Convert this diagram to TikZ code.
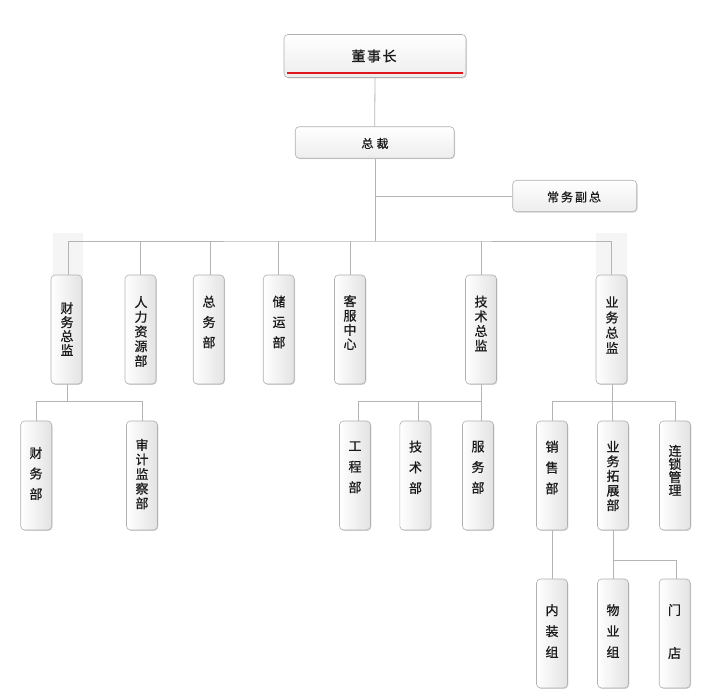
\documentclass[tikz,border=0pt]{standalone}
\usepackage{fontspec}
\newfontfamily\cjk[FakeBold=0.7]{Noto Sans CJK SC}
\usetikzlibrary{shadows}
\definecolor{lineg}{HTML}{B4B4B4}
\definecolor{boxg}{HTML}{B0B0B0}
\definecolor{txt}{HTML}{1A1A1A}
\definecolor{redl}{HTML}{E0191E}
\tikzset{
  conn/.style={draw=lineg, line width=0.8pt},
  basebox/.style={draw=boxg, line width=0.6pt, rounded corners=4pt,
    drop shadow={shadow xshift=0.8pt, shadow yshift=-0.9pt, opacity=0.35, fill=black!45}},
  vbox/.style={basebox, minimum width=31pt, minimum height=109pt, inner sep=0pt,
    left color=white, right color=black!11, shading angle=90},
  hbox/.style={basebox, inner sep=0pt, top color=white, bottom color=black!7},
  vlab/.style={font=\cjk\fontsize{13}{#1}\selectfont, align=center, inner sep=0pt, text=txt},
  hlab/.style={font=\cjk\fontsize{#1}{#1}\selectfont, inner sep=0pt, text=txt},
  faint/.style={fill=black!4, draw=none}
}
\begin{document}
\begin{tikzpicture}[x=1pt,y=-1pt]
\useasboundingbox (0,0) rectangle (705,700);
% faint backgrounds
\path[faint] (53,233) rectangle (83,276);
\path[faint] (596,233) rectangle (627,276);

% top boxes
\node[hbox, minimum width=182pt, minimum height=43pt] (dsz) at (375,56) {};
\node[hlab=14] (dszt) at (374,56) {董\kern1.5pt事\kern1.5pt长};
\coordinate (rl1) at (287,73.3);
\coordinate (rl2) at (463,73.3);
\draw[redl, line width=2pt] (rl1) -- (rl2);

\node[hbox, minimum width=159pt, minimum height=31.5pt] (zc) at (374.7,142.5) {};
\node[hlab=12] (zct) at (375,143.5) {总\kern3pt裁};

\node[hbox, minimum width=124pt, minimum height=31.5pt] (cwfz) at (574.7,196) {};
\node[hlab=12] (cwfzt) at (574,197) {常\kern2pt务\kern2pt副\kern2pt总};

% level 2
\node[vbox] (cwzj) at (66.5,329.5) {};
\node[vlab=14] (cwzjt) at (67,329) {财\\务\\总\\监};
\node[vbox] (rlzy) at (140.5,329.5) {};
\node[vlab=14.7] (rlzyt) at (141,331.5) {人\\力\\资\\源\\部};
\node[vbox] (zwb) at (208.7,329.5) {};
\node[vlab=20.3] (zwbt) at (209,322) {总\\务\\部};
\node[vbox] (cyb) at (278.7,329.5) {};
\node[vlab=20.3] (cybt) at (279,322) {储\\运\\部};
\node[vbox] (kfzx) at (350,329.5) {};
\node[vlab=14.3] (kfzxt) at (350,322.5) {客\\服\\中\\心};
\node[vbox] (jszj) at (481,329.5) {};
\node[vlab=14.7] (jszjt) at (481,323.5) {技\\术\\总\\监};
\node[vbox] (ywzj) at (611.5,329.5) {};
\node[vlab=15.3] (ywzjt) at (612,325) {业\\务\\总\\监};

% level 3
\node[vbox] (cwb) at (36.2,475.5) {};
\node[vlab=20.5] (cwbt) at (36,473.5) {财\\务\\部};
\node[vbox] (sjjc) at (142,475.5) {};
\node[vlab=14.6] (sjjct) at (142,474) {审\\计\\监\\察\\部};
\node[vbox] (gcb) at (355,475.5) {};
\node[vlab=20.7] (gcbt) at (355,467.3) {工\\程\\部};
\node[vbox] (jsb) at (415.3,475.5) {};
\node[vlab=20.7] (jsbt) at (415.5,467.3) {技\\术\\部};
\node[vbox] (fwb) at (478,475.5) {};
\node[vlab=20.7] (fwbt) at (478,467.3) {服\\务\\部};
\node[vbox] (xsb) at (552,475.5) {};
\node[vlab=20.8] (xsbt) at (552,467.5) {销\\售\\部};
\node[vbox] (ywtz) at (613,475.5) {};
\node[vlab=14.6] (ywtzt) at (613,476) {业\\务\\拓\\展\\部};
\node[vbox] (lsgl) at (675,475.5) {};
\node[vlab=13.1] (lsglt) at (675,470.3) {连\\锁\\管\\理};

% level 4
\node[vbox] (nzz) at (552,633.5) {};
\node[vlab=21] (nzzt) at (552,631) {内\\装\\组};
\node[vbox] (wyz) at (613,633.5) {};
\node[vlab=21] (wyzt) at (613,631) {物\\业\\组};
\node[vbox] (md) at (674.7,633.5) {};
\node[vlab=43] (mdt) at (674.5,631.5) {门\\店};

% connectors
\coordinate (bus) at (375.5,241);
\coordinate (b1) at (67.5,401.5);
\coordinate (b2) at (481,401.5);
\coordinate (b3) at (612,401.5);
\coordinate (b4) at (613,560);
\draw[conn] (dsz.south) -- (zc.north);
\draw[conn] (zc.south -| bus) -- (bus);
\draw[conn] (cwfz.west) -- (cwfz.west -| bus);
\draw[conn] ([xshift=1.5pt]cwzj.north) |- (bus) -| (ywzj.north);
\draw[conn] (rlzy.north) -- (rlzy.north |- bus);
\draw[conn] ([xshift=1.5pt]zwb.north) -- ([xshift=1.5pt]zwb.north |- bus);
\draw[conn] (cyb.north) -- (cyb.north |- bus);
\draw[conn] (kfzx.north) -- (kfzx.north |- bus);
\draw[conn] (jszj.north) -- (jszj.north |- bus);

\draw[conn] (cwzj.south -| b1) -- (b1);
\draw[conn] (cwb.north) |- (b1) -| (sjjc.north);

\draw[conn] (jszj.south) -- (b2);
\draw[conn] ([xshift=3pt]gcb.north) |- (b2) -- (fwb.north -| b2);
\draw[conn] ([xshift=3.5pt]jsb.north) -- ([xshift=3.5pt]jsb.north |- b2);

\draw[conn] (ywzj.south -| b3) -- (b3);
\draw[conn] (xsb.north) |- (b3) -| (lsgl.north);
\draw[conn] (b3) -- (ywtz.north -| b3);

\draw[conn] (xsb.south) -- (nzz.north);
\draw[conn] (ywtz.south) -- (wyz.north);
\draw[conn] (b4) -| ([xshift=2pt]md.north);
\end{tikzpicture}
\end{document}
